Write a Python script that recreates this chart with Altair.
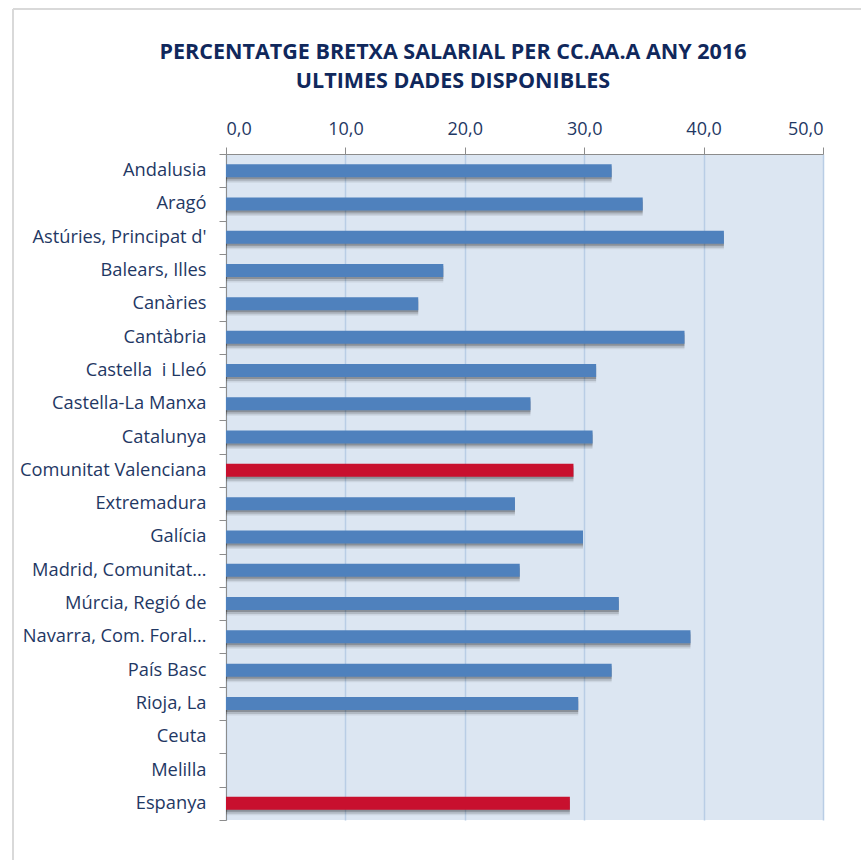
import altair as alt
import pandas as pd

regions = ["Andalusia", "Aragó", "Astúries, Principat d'", "Balears, Illes", "Canàries",
           "Cantàbria", "Castella\u00a0 i Lleó", "Castella-La Manxa", "Catalunya",
           "Comunitat Valenciana", "Extremadura", "Galícia", "Madrid, Comunitat…",
           "Múrcia, Regió de", "Navarra, Com. Foral…", "País Basc", "Rioja, La",
           "Ceuta", "Melilla", "Espanya"]
values = [32.3, 34.9, 41.7, 18.2, 16.1, 38.4, 31.0, 25.5, 30.7, 29.1, 24.2, 29.9, 24.6,
          32.9, 38.9, 32.3, 29.5, None, None, 28.8]
highlight = ["Comunitat Valenciana", "Espanya"]
title_lines = ["PERCENTATGE  BRETXA SALARIAL PER CC.AA.A  ANY 2016", "ULTIMES DADES DISPONIBLES"]

df = pd.DataFrame({"region": regions, "value": values})
df["kind"] = ["hl" if r in highlight else "normal" for r in regions]

FONT = "Open Sans"
LABEL_COLOR = "#1f3864"

y_enc = alt.Y("region:N", sort=regions, scale=alt.Scale(domain=regions, paddingInner=0, paddingOuter=0),
              axis=alt.Axis(title=None, labelFont=FONT, labelFontSize=18.3, labelColor=LABEL_COLOR,
                            domainColor="#8c8c8c", tickColor="#8c8c8c", tickSize=7, labelPadding=13,
                            bandPosition=0, tickBand="extent", grid=False, labelLimit=260))
x_enc = alt.X("value:Q", scale=alt.Scale(domain=[0, 50], nice=False),
              axis=alt.Axis(orient="top", title=None, values=[0, 10, 20, 30, 40, 50],
                            labelExpr="replace(format(datum.value, '.1f'), '.', ',')",
                            labelFont=FONT, labelFontSize=18, labelColor=LABEL_COLOR,
                            domainColor="#8c8c8c", tickColor="#8c8c8c", tickSize=7,
                            labelPadding=9, grid=True, gridColor="#b9cde5", gridWidth=1.5))

base = alt.Chart(df)

shadow0 = base.mark_bar(size=14, color="#000000", opacity=0.07, yOffset=5, x2Offset=7).encode(
    x=x_enc, y=y_enc)
shadow1 = base.mark_bar(size=13, color="#000000", opacity=0.13, yOffset=4, x2Offset=5).encode(
    x=x_enc, y=y_enc)
shadow2 = base.mark_bar(size=13, color="#000000", opacity=0.22, yOffset=2, x2Offset=3).encode(
    x=x_enc, y=y_enc)
bars = base.mark_bar(size=13).encode(
    x=x_enc, y=y_enc,
    color=alt.Color("kind:N", scale=alt.Scale(domain=["normal", "hl"], range=["#4f81bd", "#c8102e"]),
                    legend=None))

one = alt.Data(values=[{"a": 1}])
left_line = alt.Chart(one).mark_rule(color="#d9d9d9", strokeWidth=2).encode(
    x=alt.value(-213), y=alt.value(-145), y2=alt.value(720))
top_line = alt.Chart(one).mark_rule(color="#d9d9d9", strokeWidth=2).encode(
    x=alt.value(-213), x2=alt.value(700), y=alt.value(-145))

title_layers = []
for txt, ypix in zip(title_lines, [-101, -72]):
    title_layers.append(
        alt.Chart(alt.Data(values=[{"t": txt}])).mark_text(
            font=FONT, fontSize=21.5, fontWeight="bold", color="#10285c",
            align="center", baseline="middle"
        ).encode(text="t:N", x=alt.value(227), y=alt.value(ypix))
    )

chart = alt.layer(shadow0, shadow1, shadow2, bars, left_line, top_line, *title_layers).properties(
    width=597, height=666,
    autosize=alt.AutoSizeParams(type="none"),
    padding={"left": 226, "top": 154, "right": 38, "bottom": 40},
).configure(background="white").configure_view(fill="#dce6f2", stroke=None)

chart.save("out.html", embed_options={"renderer": "svg", "actions": False})
